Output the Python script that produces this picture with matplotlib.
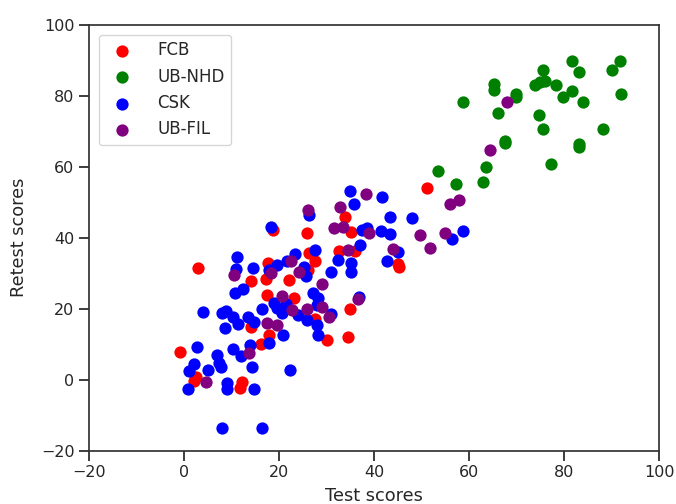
import matplotlib
matplotlib.use("Agg")
import matplotlib.pyplot as plt
import seaborn as sns
import numpy as np

sns.set_style("ticks")
plt.rcParams['font.family'] = ['DejaVu Sans']

groups = ["FCB", "UB-NHD", "CSK", "UB-FIL"]
colors = ["red", "green", "blue", "purple"]

fcb_x = [-0.8, 2.9, 2.0, 2.5, 12.1, 11.8, 14.0, 14.0, 16.2, 17.2, 17.4, 17.6, 17.8, 18.7,
         22.0, 23.2, 25.8, 26.2, 27.5, 27.5, 30.0, 32.6, 33.9, 35.1, 36.0, 34.9, 34.6,
         45.0, 45.3, 51.1, 26.0]
fcb_y = [7.7, 31.5, -0.3, 0.8, -0.6, -2.3, 27.9, 14.8, 10.0, 28.4, 23.8, 33.0, 12.6, 42.2,
         28.2, 22.9, 41.2, 35.6, 33.5, 17.0, 11.2, 36.2, 45.9, 41.5, 36.2, 20.0, 12.0,
         32.6, 31.8, 53.9, 31.0]

nhd_x = [81.6, 91.7, 75.5, 83.0, 90.0, 65.3, 65.3, 73.8, 74.9, 76.0, 78.2, 81.6, 79.8,
         69.8, 69.8, 91.9, 83.9, 58.6, 66.1, 74.7, 75.5, 88.2, 67.5, 67.5, 83.2, 83.2,
         77.2, 63.6, 53.4, 62.8, 57.3]
nhd_y = [89.8, 89.8, 87.2, 86.6, 87.2, 83.2, 81.6, 83.0, 83.9, 84.2, 83.0, 81.4, 79.7,
         80.4, 79.7, 80.4, 78.1, 78.1, 75.2, 74.6, 70.6, 70.6, 67.2, 66.6, 66.3, 65.6,
         60.7, 60.0, 58.9, 55.8, 55.1]

csk_x = [0.8, 1.0, 2.1, 2.7, 3.9, 5.1, 6.9, 7.3, 7.7, 7.9, 8.9, 8.7, 8.0, 9.0, 9.0,
         10.4, 11.4, 10.4, 11.9, 10.7, 12.4, 10.9, 11.1, 14.6, 13.5, 14.7, 13.9, 14.2,
         14.7, 16.4, 16.3, 17.9, 17.8, 19.6, 21.6, 23.4, 27.6, 25.2, 25.6, 30.9, 18.9,
         19.5, 20.6, 21.4, 20.8, 22.3, 25.8, 24.0, 27.2, 28.1, 27.9, 28.0, 28.2, 30.9,
         32.4, 18.2, 26.2, 34.9, 35.8, 37.4, 37.0, 35.1, 35.1, 41.7, 43.3, 47.9, 41.4,
         43.3, 38.4, 58.6, 56.4, 45.1, 42.6, 36.8]
csk_y = [-2.6, 2.4, 4.5, 9.1, 19.2, 2.6, 7.0, 4.8, 3.6, 18.9, 19.3, 14.6, -13.6, -0.8,
         -2.5, 17.7, 15.6, 8.6, 6.6, 24.5, 25.5, 31.2, 34.5, 31.4, 17.6, 16.3, 9.8, 3.5,
         -2.5, -13.6, 19.8, 10.4, 30.9, 32.2, 33.4, 35.4, 36.5, 31.8, 29.3, 30.2, 21.6,
         20.1, 18.9, 21.2, 12.6, 2.8, 16.9, 18.3, 24.3, 23.1, 21.0, 15.4, 12.5, 18.6,
         33.6, 43.1, 46.5, 53.2, 49.4, 42.2, 38.0, 32.8, 30.4, 51.5, 45.9, 45.6, 41.8,
         41.1, 42.6, 41.9, 39.7, 36.1, 33.3, 23.2]

fil_x = [67.9, 64.4, 56.0, 57.9, 38.2, 49.6, 51.8, 55.0, 38.9, 33.5, 31.6, 32.9, 26.1,
         44.0, 34.4, 36.6, 22.5, 10.6, 18.2, 24.2, 29.0, 20.7, 22.7, 25.8, 29.0, 30.5,
         17.4, 19.5, 13.6, 4.6]
fil_y = [78.1, 64.7, 49.5, 50.5, 52.2, 40.8, 37.2, 41.2, 41.2, 43.0, 42.8, 48.7, 47.7,
         36.7, 36.5, 22.7, 33.5, 29.5, 30.1, 30.4, 26.9, 23.5, 19.5, 20.0, 20.5, 17.6,
         16.0, 15.4, 7.4, -0.6]

data = [(fcb_x, fcb_y), (nhd_x, nhd_y), (csk_x, csk_y), (fil_x, fil_y)]

fig = plt.figure(figsize=(6.76, 5.04), dpi=100)
ax = fig.add_axes([89/676, 1-450.7/504, (659.3-89)/676, (450.7-24.7)/504])

for (xs, ys), g, c in zip(data, groups, colors):
    ax.scatter(xs, ys, s=78, color=c, label=g, linewidths=0)

ax.set_xlim(-20, 100)
ax.set_ylim(-20, 100)
ax.set_xticks(np.arange(-20, 101, 20))
ax.set_yticks(np.arange(-20, 101, 20))
ax.tick_params(labelsize=11.5, length=7, width=1.25, colors='.15')
for sp in ax.spines.values():
    sp.set_linewidth(1.25)
    sp.set_color('.2')
ax.set_xlabel("Test scores", fontsize=12.8, color='.15', labelpad=4.5)
ax.set_ylabel("Retest scores", fontsize=12.8, color='.15', labelpad=9)
ax.legend(loc='upper left', fontsize=12, scatterpoints=1, frameon=True,
          handletextpad=1.1, borderaxespad=0.6)

fig.savefig("out.png", dpi=100)
